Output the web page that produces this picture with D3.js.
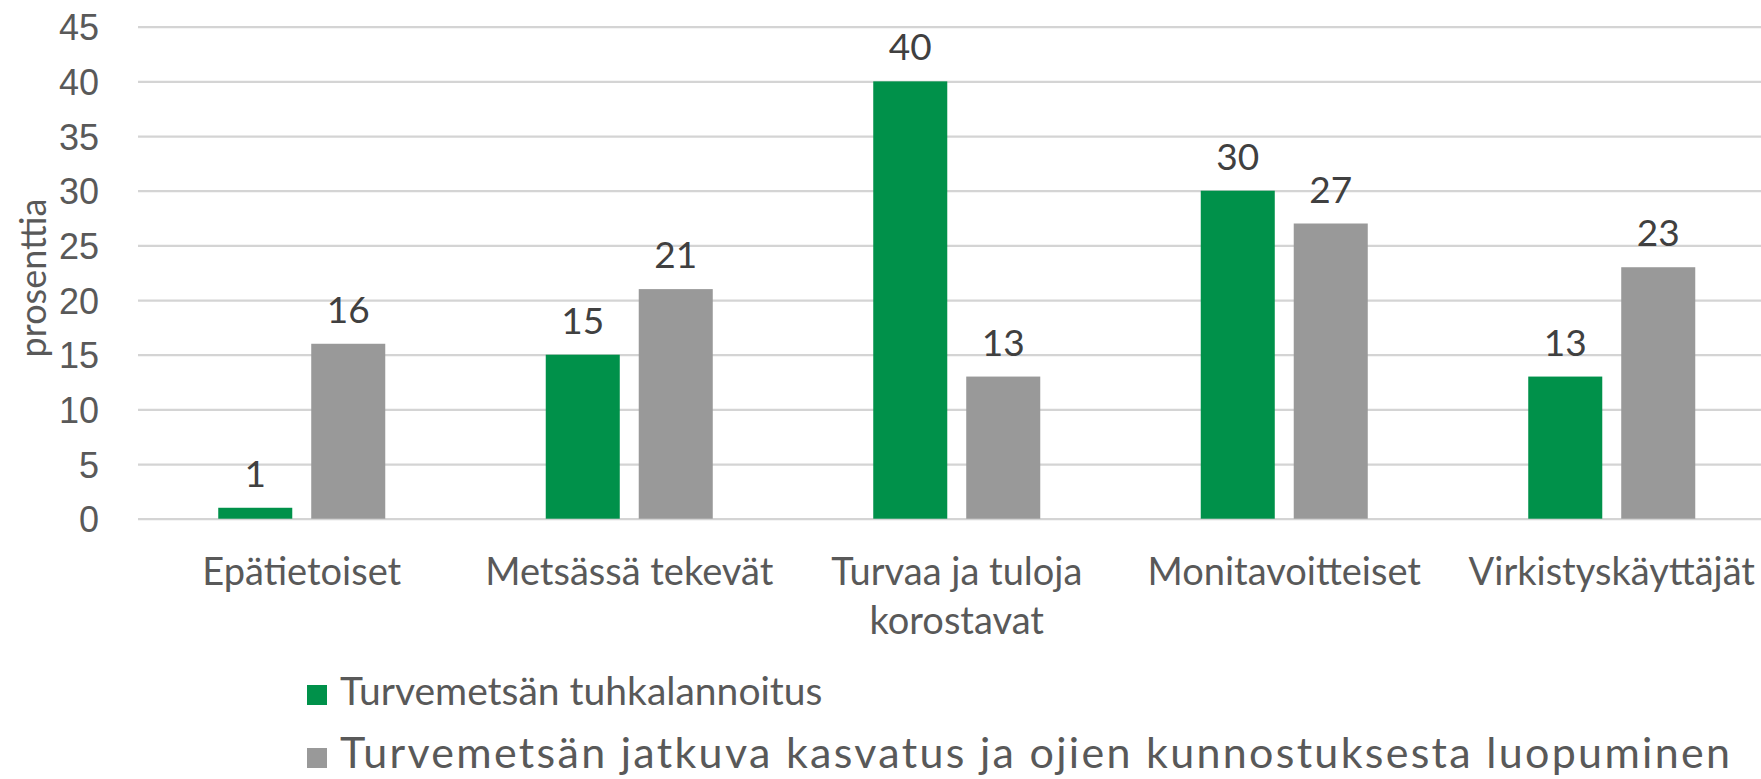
<!DOCTYPE html>
<html>
<head>
<meta charset="utf-8">
<script src="https://cdn.jsdelivr.net/npm/d3@7"></script>
<style>
  html, body { margin: 0; padding: 0; background: #fff; }
  svg { display: block; font-family: Lato, "Open Sans", sans-serif; }
</style>
</head>
<body>
<svg id="chart"></svg>
<script>
// Data
const categories = ["Epätietoiset", "Metsässä tekevät", "Turvaa ja tuloja korostavat", "Monitavoitteiset", "Virkistyskäyttäjät"];
const categoryLines = [["Epätietoiset"], ["Metsässä tekevät"], ["Turvaa ja tuloja", "korostavat"], ["Monitavoitteiset"], ["Virkistyskäyttäjät"]];
const seriesNames = ["Turvemetsän tuhkalannoitus", "Turvemetsän jatkuva kasvatus ja ojien kunnostuksesta luopuminen"];
const tuhkalannoitus = [1, 15, 40, 30, 13];
const jatkuvaKasvatus = [16, 21, 13, 27, 23];
const yTicks = [0, 5, 10, 15, 20, 25, 30, 35, 40, 45];
const colors = ["#00914A", "#999999"];

const seriesValues = [tuhkalannoitus, jatkuvaKasvatus];

// Dimensions
const svgWidth = 1761;
const svgHeight = 779;
const plotLeft = 138;
const plotRight = 1775.5;
const plotTop = 26.7;
const plotBottom = 518.7;

const svg = d3.select("#chart")
  .attr("width", svgWidth)
  .attr("height", svgHeight);

// Scales
const x0 = d3.scaleBand()
  .domain(categories)
  .range([plotLeft, plotRight])
  .paddingInner(0)
  .paddingOuter(0);

const x1 = d3.scaleBand()
  .domain(seriesNames)
  .range([0, x0.bandwidth()])
  .paddingInner(0.204)
  .paddingOuter(0.863);

const y = d3.scaleLinear()
  .domain([0, 45])
  .range([plotBottom, plotTop]);

// Grid lines + y tick labels
const yAxis = svg.append("g")
  .attr("transform", `translate(${plotLeft},0)`)
  .call(d3.axisLeft(y).tickValues(yTicks).tickSize(-(svgWidth - plotLeft)).tickPadding(39))
  .call(g => g.select(".domain").remove());

yAxis.selectAll(".tick line")
  .attr("stroke", "#d4d4d4")
  .attr("stroke-width", 2.2);

yAxis.selectAll(".tick text")
  .attr("fill", "#595959")
  .style("font-size", "36px")
  .attr("dy", "0.36em");

// Y axis title
svg.append("text")
  .attr("transform", `translate(46,278) rotate(-90)`)
  .attr("text-anchor", "middle")
  .attr("fill", "#595959")
  .style("font-size", "36px")
  .text("prosenttia");

// Bars
const groups = svg.append("g")
  .selectAll("g")
  .data(categories)
  .join("g")
  .attr("transform", d => `translate(${x0(d)},0)`);

groups.selectAll("rect")
  .data((d, i) => seriesNames.map((s, j) => ({ series: s, value: seriesValues[j][i], color: colors[j] })))
  .join("rect")
  .attr("x", d => x1(d.series))
  .attr("y", d => y(d.value))
  .attr("width", x1.bandwidth())
  .attr("height", d => y(0) - y(d.value))
  .attr("fill", d => d.color);

// Data labels
groups.selectAll("text")
  .data((d, i) => seriesNames.map((s, j) => ({ series: s, value: seriesValues[j][i] })))
  .join("text")
  .attr("x", d => x1(d.series) + x1.bandwidth() / 2)
  .attr("y", d => y(d.value) - 21)
  .attr("text-anchor", "middle")
  .attr("fill", "#404040")
  .style("font-size", "37px")
  .text(d => d.value);

// Category labels
const catLabels = svg.append("g")
  .selectAll("text")
  .data(categories)
  .join("text")
  .attr("x", d => x0(d) + x0.bandwidth() / 2)
  .attr("y", 585)
  .attr("text-anchor", "middle")
  .attr("fill", "#595959")
  .style("font-size", "38px");

catLabels.selectAll("tspan")
  .data((d, i) => categoryLines[i])
  .join("tspan")
  .attr("x", function() { return this.parentNode.getAttribute("x"); })
  .attr("dy", (d, i) => i === 0 ? 0 : 49)
  .text(d => d);

// Legend
const legendFont = [39, 43];
const legendSpacing = [0, 2.3];
const legend = svg.append("g")
  .selectAll("g")
  .data(seriesNames)
  .join("g")
  .attr("transform", (d, i) => `translate(307,${705 + i * 63})`);

legend.append("rect")
  .attr("x", 0)
  .attr("y", -20)
  .attr("width", 20)
  .attr("height", 20)
  .attr("fill", (d, i) => colors[i]);

legend.append("text")
  .attr("x", 33)
  .attr("y", 0)
  .attr("fill", "#595959")
  .style("font-size", (d, i) => legendFont[i] + "px")
  .style("letter-spacing", (d, i) => legendSpacing[i] + "px")
  .text(d => d);
</script>
</body>
</html>
